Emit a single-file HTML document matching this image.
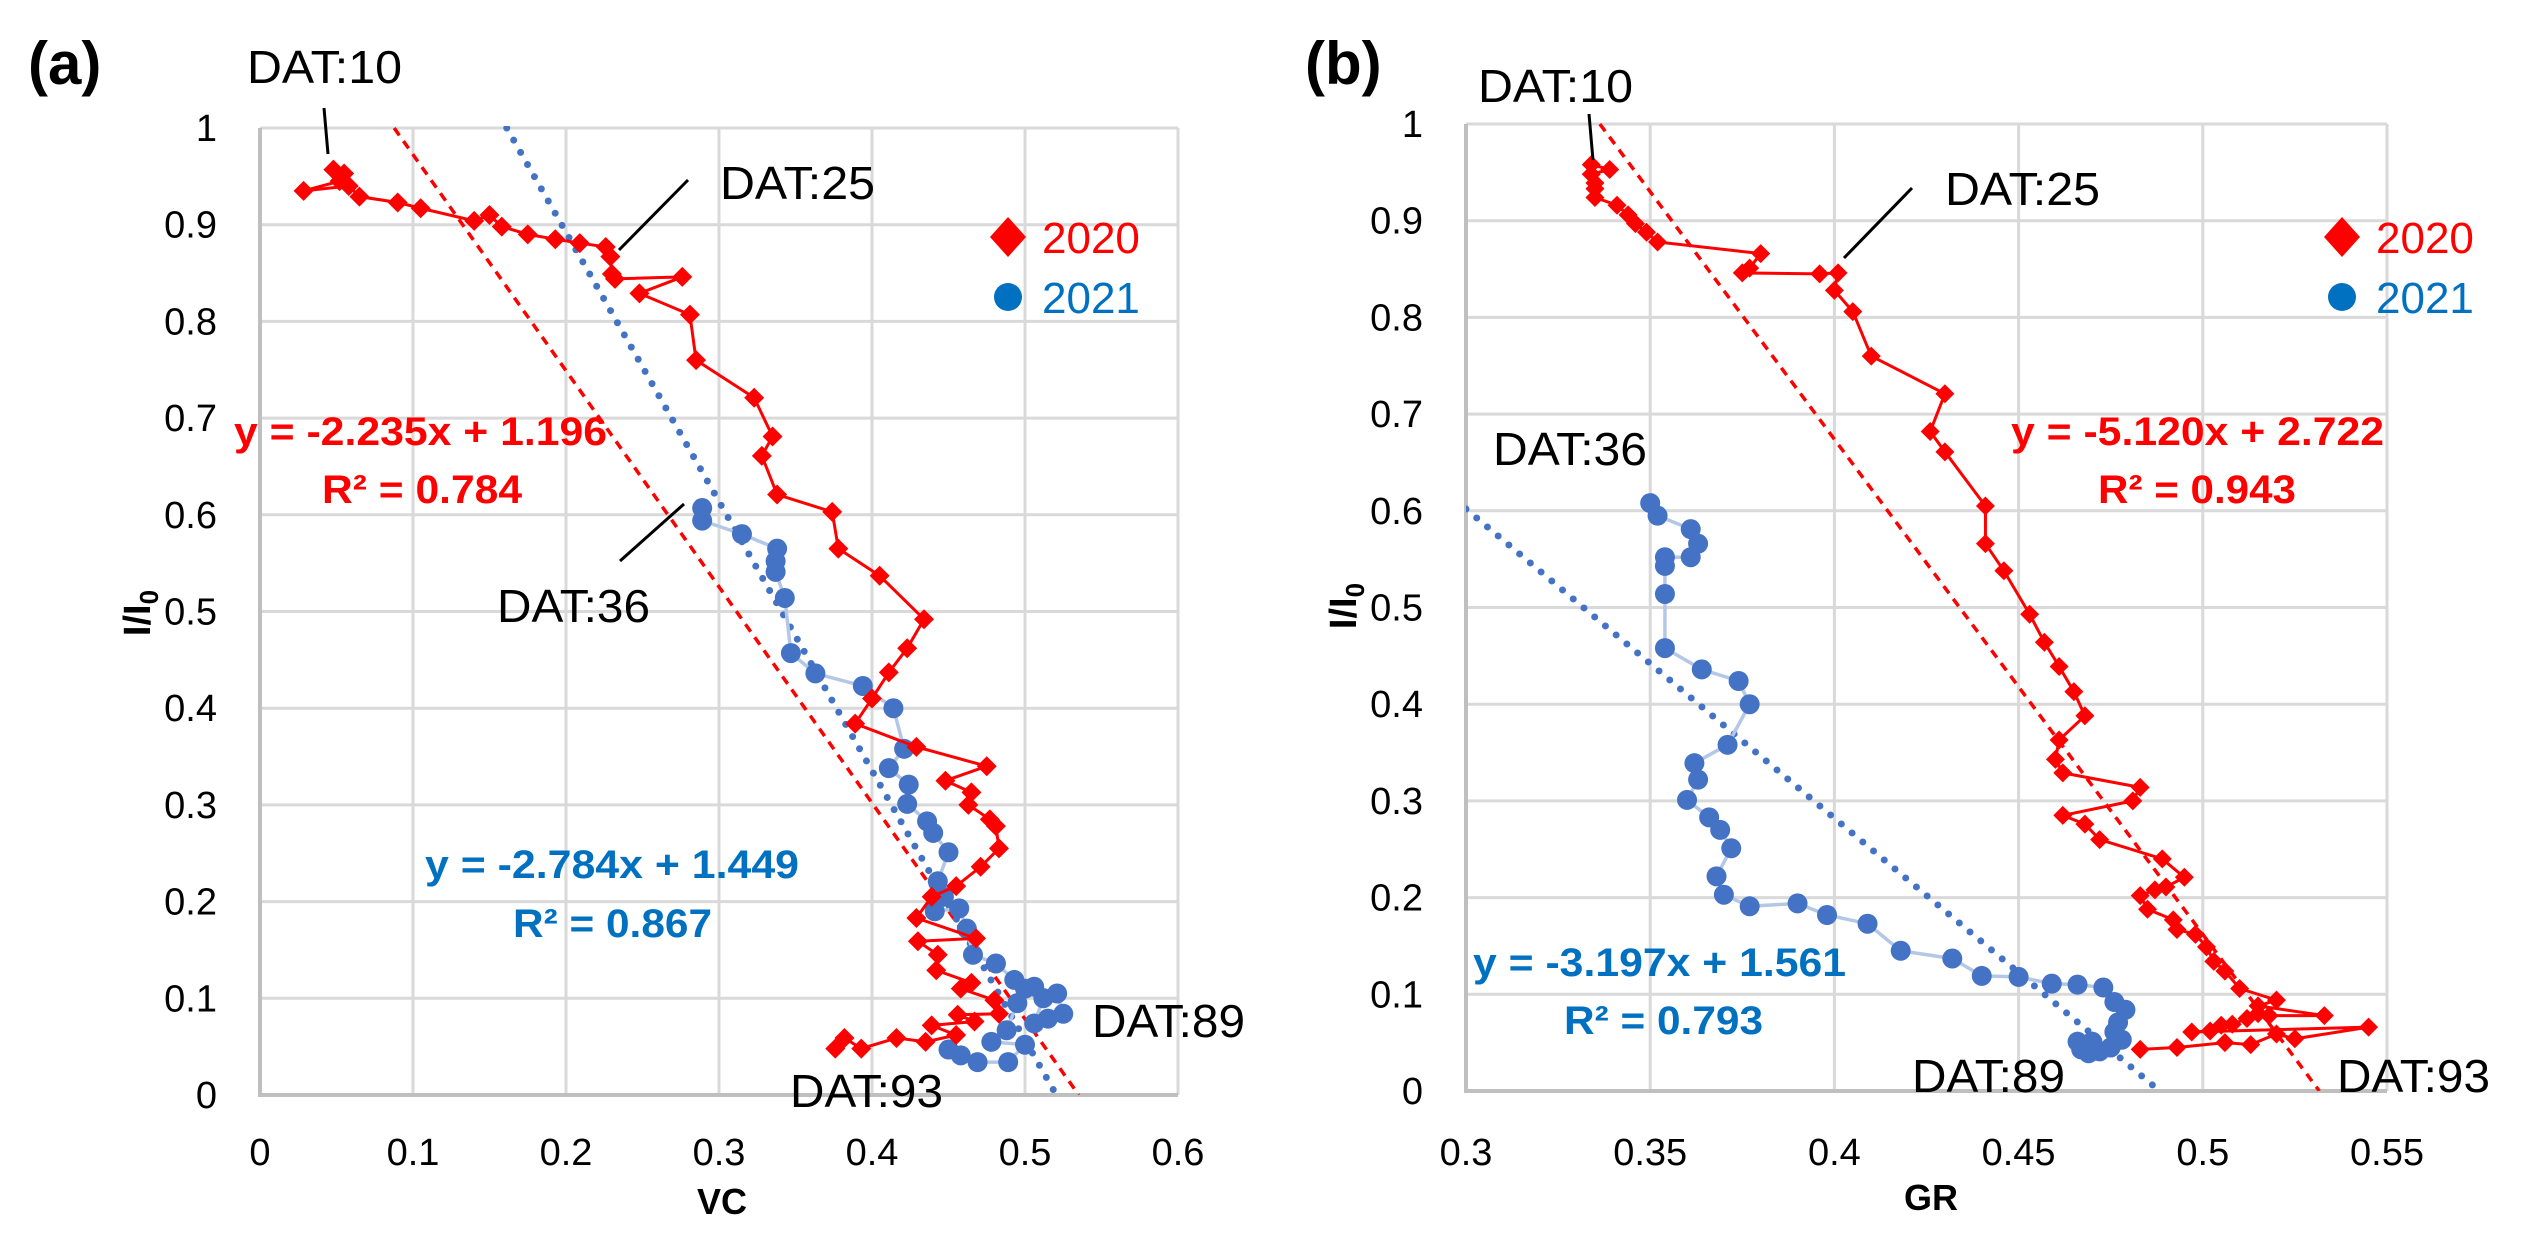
<!DOCTYPE html>
<html><head><meta charset="utf-8">
<style>
html,body{margin:0;padding:0;background:#fff;}
svg{display:block;font-family:"Liberation Sans",sans-serif;}
</style></head>
<body>
<svg id="fig" width="2524" height="1240" viewBox="0 0 2524 1240" xmlns="http://www.w3.org/2000/svg">
  <g id="panelA"></g>
  <g id="panelB"></g>
</svg>
<script>
// ---- Panel (a): VC vs I/I0 ----
const aRed2020X = [0.048,0.055,0.052,0.0285,0.058,0.065,0.090,0.105,0.140,0.150,0.158,0.175,0.193,0.209,0.226,0.229,0.230,0.232,0.276,0.248,0.281,0.285,0.323,0.335,0.328,0.338,0.374,0.378,0.405,0.434,0.423,0.411,0.400,0.389,0.429,0.475,0.448,0.465,0.463,0.477,0.481,0.483,0.471,0.455,0.439,0.429,0.468,0.430,0.443,0.442,0.465,0.458,0.480,0.483,0.456,0.467,0.439,0.455,0.435,0.416,0.393,0.382,0.376];
const aRed2020Y = [0.957,0.953,0.945,0.935,0.940,0.929,0.923,0.917,0.904,0.910,0.898,0.890,0.885,0.881,0.877,0.867,0.849,0.844,0.846,0.829,0.807,0.760,0.721,0.681,0.661,0.621,0.603,0.565,0.537,0.492,0.462,0.437,0.410,0.384,0.360,0.340,0.325,0.313,0.300,0.285,0.278,0.255,0.236,0.216,0.205,0.183,0.162,0.159,0.145,0.129,0.116,0.110,0.098,0.084,0.083,0.076,0.072,0.062,0.055,0.059,0.048,0.059,0.048];
const aBlue2021X = [0.289,0.289,0.315,0.338,0.337,0.337,0.343,0.347,0.363,0.394,0.414,0.421,0.411,0.424,0.423,0.436,0.440,0.450,0.443,0.447,0.441,0.457,0.462,0.466,0.481,0.493,0.506,0.521,0.525,0.515,0.506,0.512,0.500,0.495,0.488,0.478,0.500,0.489,0.469,0.458,0.450];
const aBlue2021Y = [0.607,0.594,0.580,0.565,0.552,0.541,0.514,0.457,0.436,0.423,0.400,0.358,0.338,0.321,0.301,0.283,0.271,0.251,0.221,0.205,0.190,0.193,0.172,0.145,0.136,0.119,0.112,0.105,0.084,0.079,0.074,0.100,0.110,0.095,0.067,0.055,0.052,0.034,0.034,0.041,0.047];
const aXTicks = ["0","0.1","0.2","0.3","0.4","0.5","0.6"];
const aXTickVals = [0,0.1,0.2,0.3,0.4,0.5,0.6];
const aYTicks = ["0","0.1","0.2","0.3","0.4","0.5","0.6","0.7","0.8","0.9","1"];
const aYTickVals = [0,0.1,0.2,0.3,0.4,0.5,0.6,0.7,0.8,0.9,1];
const aTrendRed = [-2.235, 1.196];
const aTrendBlue = [-2.784, 1.449];

// ---- Panel (b): GR vs I/I0 ----
const bRed2020X = [0.334,0.339,0.334,0.335,0.335,0.335,0.341,0.344,0.346,0.349,0.352,0.380,0.377,0.375,0.396,0.401,0.400,0.405,0.410,0.430,0.426,0.430,0.441,0.441,0.446,0.453,0.457,0.461,0.465,0.468,0.461,0.460,0.462,0.483,0.481,0.462,0.468,0.472,0.489,0.495,0.490,0.487,0.483,0.485,0.492,0.493,0.498,0.501,0.503,0.506,0.510,0.520,0.515,0.533,0.518,0.515,0.512,0.508,0.505,0.502,0.497,0.545,0.525,0.520,0.513,0.506,0.493,0.483];
const bRed2020Y = [0.958,0.953,0.948,0.939,0.933,0.924,0.916,0.906,0.897,0.888,0.878,0.866,0.851,0.846,0.845,0.846,0.828,0.806,0.760,0.721,0.682,0.661,0.605,0.566,0.538,0.493,0.464,0.439,0.413,0.388,0.363,0.343,0.329,0.314,0.300,0.285,0.276,0.260,0.240,0.221,0.211,0.208,0.202,0.188,0.177,0.167,0.162,0.149,0.134,0.124,0.106,0.094,0.088,0.078,0.078,0.080,0.075,0.069,0.068,0.062,0.061,0.066,0.054,0.059,0.048,0.050,0.045,0.043];
const bBlue2021X = [0.350,0.352,0.361,0.363,0.361,0.354,0.354,0.354,0.354,0.364,0.374,0.377,0.371,0.362,0.363,0.360,0.366,0.369,0.372,0.368,0.370,0.377,0.390,0.398,0.409,0.418,0.432,0.440,0.450,0.459,0.466,0.473,0.476,0.479,0.477,0.476,0.478,0.475,0.472,0.469,0.467,0.466,0.470];
const bBlue2021Y = [0.608,0.595,0.581,0.566,0.552,0.552,0.543,0.514,0.458,0.436,0.424,0.400,0.358,0.339,0.322,0.301,0.283,0.270,0.251,0.222,0.203,0.191,0.194,0.182,0.173,0.145,0.137,0.119,0.118,0.111,0.110,0.107,0.092,0.084,0.071,0.061,0.053,0.045,0.041,0.039,0.043,0.051,0.051];
const bXTicks = ["0.3","0.35","0.4","0.45","0.5","0.55"];
const bXTickVals = [0.3,0.35,0.4,0.45,0.5,0.55];
const bYTicks = ["0","0.1","0.2","0.3","0.4","0.5","0.6","0.7","0.8","0.9","1"];
const bYTickVals = [0,0.1,0.2,0.3,0.4,0.5,0.6,0.7,0.8,0.9,1];
const bTrendRed = [-5.120, 2.722];
const bTrendBlue = [-3.197, 1.561];

const NS = "http://www.w3.org/2000/svg";
function mk(parent, tag, attrs, text) {
  const el = document.createElementNS(NS, tag);
  for (const k in attrs) el.setAttribute(k, attrs[k]);
  if (text !== undefined) el.textContent = text;
  parent.appendChild(el);
  return el;
}

function drawPanel(g, cfg) {
  const sx = v => cfg.x0 + (v - cfg.xmin) * cfg.kx;
  const sy = v => cfg.y0 - v * cfg.ky;
  const left = sx(cfg.xmin), right = sx(cfg.xmax), top = sy(1), bottom = sy(0);
  cfg.xTickVals.forEach((v, i) => {
    const l = mk(g, "line", {x1: sx(v), x2: sx(v), y1: top, y2: bottom, stroke: "#d9d9d9", "stroke-width": 3});
    
    
    const t = mk(g, "text", {x: sx(v), y: 1165, "font-size": 38, "text-anchor": "middle", fill: "#000"}, cfg.xTicks[i]);
    
    
  });
  cfg.yTickVals.forEach((v, i) => {
    const l = mk(g, "line", {x1: left, x2: right, y1: sy(v), y2: sy(v), stroke: "#d9d9d9", "stroke-width": 3});
    
    
    const t = mk(g, "text", {x: left - 43, y: sy(v) + 13, "font-size": 38, "text-anchor": "end", fill: "#000"}, cfg.yTicks[i]);
    
    
  });
  const ax = mk(g, "path", {d: `M${left},${top} L${left},${bottom} L${right},${bottom}`, fill: "none", stroke: "#bfbfbf", "stroke-width": 4});
  
  

  const clipId = cfg.id + "clip";
  const defs = mk(g, "defs", {});
  const cp = mk(defs, "clipPath", {id: clipId});
  mk(cp, "rect", {x: left, y: top - 2, width: right - left, height: bottom - top + 2});
  const plot = mk(g, "g", {"clip-path": `url(#${clipId})`});
  
  

  function trend(coef, attrs, name) {
    const [m, c] = coef;
    let xa = (1 - c) / m, xb = (0 - c) / m;
    if (xa < cfg.xmin) xa = cfg.xmin;
    const l = mk(plot, "line", Object.assign({x1: sx(xa), y1: sy(m * xa + c), x2: sx(xb), y2: sy(0)}, attrs));
    
    
  }
  trend(cfg.trendRed, {stroke: "#ff0000", "stroke-width": 3.5, "stroke-dasharray": "9 7"}, 'trendline-2020');
  trend(cfg.trendBlue, {stroke: "#4472c4", "stroke-width": 7, "stroke-dasharray": "0 14", "stroke-linecap": "round"}, 'trendline-2021');

  const bp = cfg.blueX.map((v, i) => `${sx(v)},${sy(cfg.blueY[i])}`).join(" ");
  const bl = mk(plot, "polyline", {points: bp, fill: "none", stroke: "#b4c7e7", "stroke-width": 3.5});
  
  
  cfg.blueX.forEach((v, i) => {
    const c = mk(plot, "circle", {cx: sx(v), cy: sy(cfg.blueY[i]), r: 10, fill: "#4472c4"});
    
    
  });
  const rp = cfg.redX.map((v, i) => `${sx(v)},${sy(cfg.redY[i])}`).join(" ");
  const rl = mk(plot, "polyline", {points: rp, fill: "none", stroke: "#ff0000", "stroke-width": 3});
  
  
  const h = cfg.dia;
  cfg.redX.forEach((v, i) => {
    const x = sx(v), y = sy(cfg.redY[i]);
    const d = mk(plot, "path", {d: `M${x},${y - h} L${x + h},${y} L${x},${y + h} L${x - h},${y} Z`, fill: "#ff0000"});
    
    
  });
}

const gA = document.getElementById("panelA");
const gB = document.getElementById("panelB");
drawPanel(gA, {id: "a", x0: 260, xmin: 0, xmax: 0.6, kx: 1530, y0: 1095, ky: 967,
  xTicks: aXTicks, xTickVals: aXTickVals, yTicks: aYTicks, yTickVals: aYTickVals,
  redX: aRed2020X, redY: aRed2020Y, blueX: aBlue2021X, blueY: aBlue2021Y,
  trendRed: aTrendRed, trendBlue: aTrendBlue, dia: 10});
drawPanel(gB, {id: "b", x0: 1466, xmin: 0.3, xmax: 0.55, kx: 3684, y0: 1091, ky: 967,
  xTicks: bXTicks, xTickVals: bXTickVals, yTicks: bYTicks, yTickVals: bYTickVals,
  redX: bRed2020X, redY: bRed2020Y, blueX: bBlue2021X, blueY: bBlue2021Y,
  trendRed: bTrendRed, trendBlue: bTrendBlue, dia: 9.5});
</script>

<svg width="2524" height="1240" viewBox="0 0 2524 1240" style="position:absolute;left:0;top:0;font-family:'Liberation Sans',sans-serif;">
  <text x="28" y="84" font-size="60" font-weight="bold">(a)</text>
  <text x="1305" y="84" font-size="60" font-weight="bold">(b)</text>

  <text x="722" y="1214" font-size="36" font-weight="bold" text-anchor="middle">VC</text>
  <text x="1931" y="1210" font-size="36" font-weight="bold" text-anchor="middle">GR</text>
  <text transform="translate(150,613) rotate(-90)" font-size="38" font-weight="bold" text-anchor="middle">I/I<tspan font-size="26" dy="8">0</tspan></text>
  <text transform="translate(1356,606) rotate(-90)" font-size="38" font-weight="bold" text-anchor="middle">I/I<tspan font-size="26" dy="8">0</tspan></text>

  <text x="247" y="83" font-size="46" textLength="155" lengthAdjust="spacingAndGlyphs">DAT:10</text>
  <line x1="324" y1="108" x2="328" y2="154" stroke="#000" stroke-width="3"/>
  <text x="720" y="199" font-size="46" textLength="155" lengthAdjust="spacingAndGlyphs">DAT:25</text>
  <line x1="688" y1="180" x2="619" y2="250" stroke="#000" stroke-width="3"/>
  <text x="497" y="622" font-size="46" textLength="153" lengthAdjust="spacingAndGlyphs">DAT:36</text>
  <line x1="684" y1="504" x2="620" y2="561" stroke="#000" stroke-width="3"/>
  <text x="1092" y="1037" font-size="46" textLength="153" lengthAdjust="spacingAndGlyphs">DAT:89</text>
  <text x="790" y="1107" font-size="46" textLength="153" lengthAdjust="spacingAndGlyphs">DAT:93</text>

  <text x="234" y="445" font-size="40" font-weight="bold" fill="#ff0000" textLength="373" lengthAdjust="spacingAndGlyphs">y = -2.235x + 1.196</text>
  <text x="322" y="503" font-size="40" font-weight="bold" fill="#ff0000" textLength="200" lengthAdjust="spacingAndGlyphs">R² = 0.784</text>
  <text x="425" y="878" font-size="40" font-weight="bold" fill="#0070c0" textLength="374" lengthAdjust="spacingAndGlyphs">y = -2.784x + 1.449</text>
  <text x="513" y="937" font-size="40" font-weight="bold" fill="#0070c0" textLength="199" lengthAdjust="spacingAndGlyphs">R² = 0.867</text>

  <path d="M1008,217 L1026,237 L1008,257 L990,237 Z" fill="#ff0000"/>
  <text x="1042" y="253" font-size="44" fill="#ff0000">2020</text>
  <circle cx="1008" cy="297" r="14" fill="#0070c0"/>
  <text x="1042" y="313" font-size="44" fill="#0070c0">2021</text>

  <text x="1478" y="102" font-size="46" textLength="155" lengthAdjust="spacingAndGlyphs">DAT:10</text>
  <line x1="1589" y1="114" x2="1593" y2="160" stroke="#000" stroke-width="3"/>
  <text x="1945" y="205" font-size="46" textLength="155" lengthAdjust="spacingAndGlyphs">DAT:25</text>
  <line x1="1912" y1="188" x2="1844" y2="258" stroke="#000" stroke-width="3"/>
  <text x="1493" y="465" font-size="46" textLength="154" lengthAdjust="spacingAndGlyphs">DAT:36</text>
  <text x="1912" y="1092" font-size="46" textLength="153" lengthAdjust="spacingAndGlyphs">DAT:89</text>
  <text x="2337" y="1092" font-size="46" textLength="153" lengthAdjust="spacingAndGlyphs">DAT:93</text>

  <text x="2011" y="445" font-size="40" font-weight="bold" fill="#ff0000" textLength="373" lengthAdjust="spacingAndGlyphs">y = -5.120x + 2.722</text>
  <text x="2098" y="503" font-size="40" font-weight="bold" fill="#ff0000" textLength="198" lengthAdjust="spacingAndGlyphs">R² = 0.943</text>
  <text x="1473" y="976" font-size="40" font-weight="bold" fill="#0070c0" textLength="373" lengthAdjust="spacingAndGlyphs">y = -3.197x + 1.561</text>
  <text x="1564" y="1034" font-size="40" font-weight="bold" fill="#0070c0" textLength="199" lengthAdjust="spacingAndGlyphs">R² = 0.793</text>

  <path d="M2342,217 L2360,237 L2342,257 L2324,237 Z" fill="#ff0000"/>
  <text x="2376" y="253" font-size="44" fill="#ff0000">2020</text>
  <circle cx="2342" cy="297" r="14" fill="#0070c0"/>
  <text x="2376" y="313" font-size="44" fill="#0070c0">2021</text>
</svg>
</body></html>
